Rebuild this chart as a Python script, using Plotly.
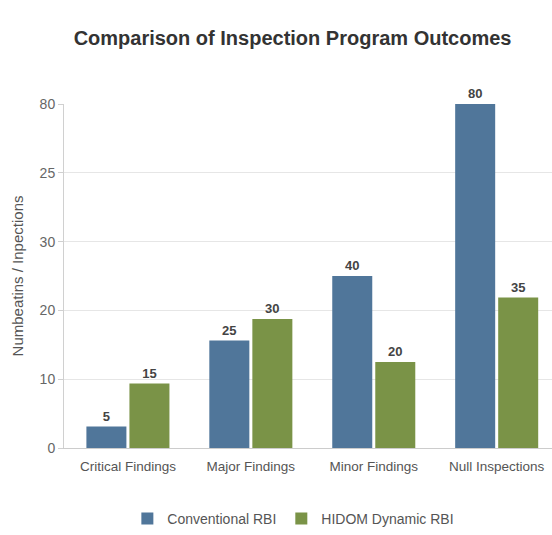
import plotly.graph_objects as go

# Outcome categories and counts per inspection program
categories = ["Critical Findings", "Major Findings", "Minor Findings", "Null Inspections"]
conventional_rbi = [5, 25, 40, 80]
hidom_dynamic_rbi = [15, 30, 20, 35]

# Y-axis tick labels as printed on the chart
y_tick_labels = ["0", "10", "20", "30", "25", "80"]
y_tick_positions = [0, 16, 32, 48, 64, 80]

BLUE = "#50769a"
GREEN = "#7a9347"
FONT = "Liberation Sans, Arial, sans-serif"

fig = go.Figure()
for name, values, color in [
    ("Conventional RBI", conventional_rbi, BLUE),
    ("HIDOM Dynamic RBI", hidom_dynamic_rbi, GREEN),
]:
    fig.add_trace(go.Bar(
        name=name,
        x=categories,
        y=values,
        marker=dict(color=color, line=dict(width=0)),
        text=[str(v) for v in values],
        textposition="outside",
        textfont=dict(family=FONT, size=13, color="#444444", weight="bold"),
        cliponaxis=False,
    ))

fig.update_layout(
    width=552,
    height=535,
    margin=dict(l=64, r=0, t=104, b=86),
    paper_bgcolor="white",
    plot_bgcolor="white",
    barmode="group",
    bargap=0.3,
    bargroupgap=0.07,
    font=dict(family=FONT, size=13, color="#555555"),
    title=dict(
        text="<b>Comparison of Inspection Program Outcomes</b>",
        xref="container",
        x=0.53,
        xanchor="center",
        y=1 - 38 / 535,
        yanchor="middle",
        font=dict(family=FONT, size=20, color="#333333"),
    ),
    legend=dict(
        orientation="h",
        x=0.47,
        xanchor="center",
        y=-0.206,
        yanchor="middle",
        font=dict(family=FONT, size=14, color="#555555"),
        itemsizing="constant",
        itemwidth=30,
    ),
    showlegend=True,
)

fig.update_xaxes(
    type="category",
    range=[-0.52, 3.45],
    showgrid=False,
    showline=True,
    linecolor="#cccccc",
    linewidth=1,
    ticks="",
    ticklabelstandoff=6,
    tickfont=dict(family=FONT, size=13.5, color="#555555"),
)

fig.update_yaxes(
    range=[0, 80],
    tickvals=y_tick_positions,
    ticktext=y_tick_labels,
    showgrid=True,
    gridcolor="#e6e6e6",
    gridwidth=1,
    showline=True,
    linecolor="#d0d0d0",
    linewidth=1,
    ticks="outside",
    ticklen=5,
    tickcolor="#d0d0d0",
    zeroline=False,
    tickfont=dict(family=FONT, size=14, color="#666666"),
    title=dict(
        text="Numbeatins / Inpections",
        font=dict(family=FONT, size=15, color="#555555"),
        standoff=12,
    ),
)

fig.write_html("out.html")
